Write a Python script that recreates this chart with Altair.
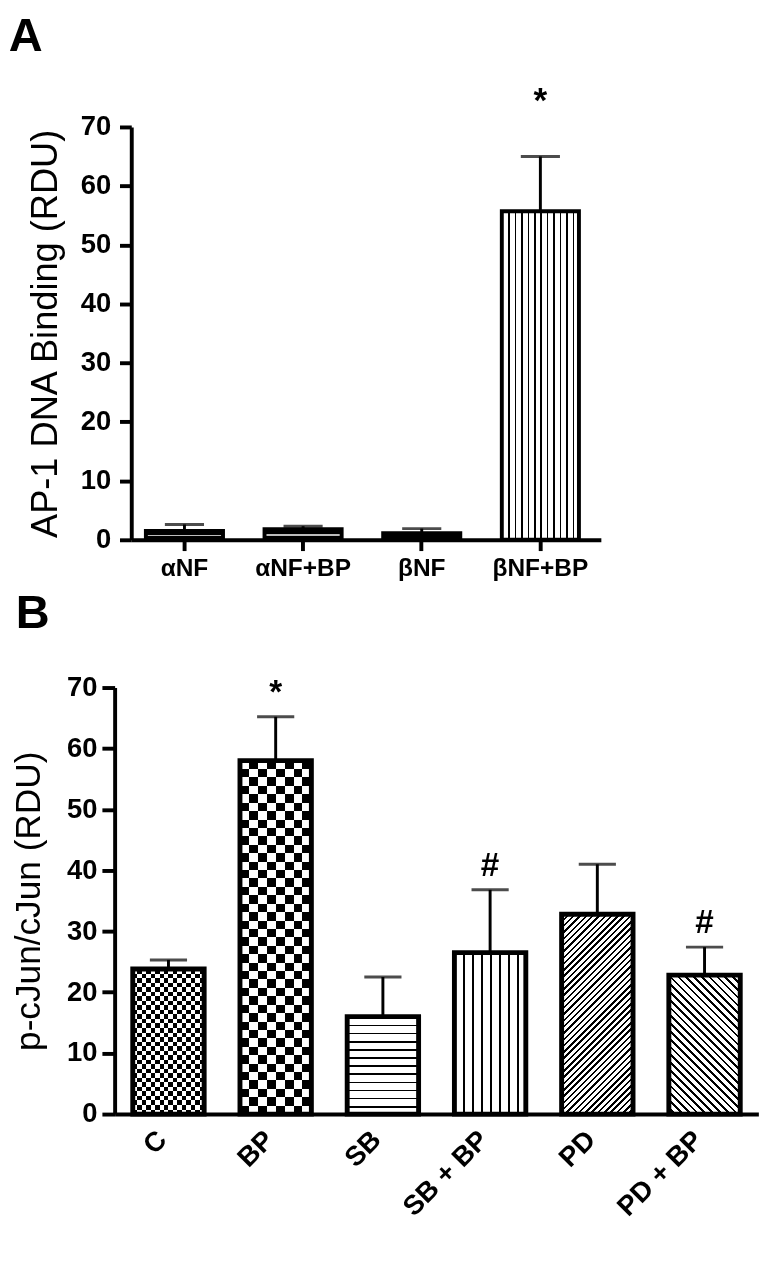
import math
import altair as alt
import pandas as pd

# ---------------- data ----------------
cats_a = ["αNF", "αNF+BP", "βNF", "βNF+BP"]
mean_a = [1.5, 1.8, 1.1, 55.7]
err_a = [1.1, 0.5, 0.8, 9.3]
sig_a = ["", "", "", "*"]

cats_b = ["C", "BP", "SB", "SB + BP", "PD", "PD + BP"]
mean_b = [23.8, 58.0, 16.0, 26.5, 32.8, 22.8]
err_b = [1.5, 7.2, 6.5, 10.3, 8.2, 4.6]
sig_b = ["", "*", "", "#", "", "#"]

y_ticks = [0, 10, 20, 30, 40, 50, 60, 70]

FONT = "Liberation Sans"

# ---------------- layout constants ----------------
WA, HA = 480, 422
SHIFT_B = 17            # panel B's y axis sits this far left of the shared plot edge
WB, HB = 641, 436
PI_A, PO_A, AL_A = 0.35, 0.154, 0.40
PI_B, PO_B, AL_B = 0.334, 0.169, 0.5
RANGE_A = [0, WA]
RANGE_B = [-SHIFT_B, WB]
step_a = (RANGE_A[1] - RANGE_A[0]) / (len(cats_a) - PI_A + 2 * PO_A)
step_b = (RANGE_B[1] - RANGE_B[0]) / (len(cats_b) - PI_B + 2 * PO_B)
bw_a = step_a * (1 - PI_A)
bw_b = step_b * (1 - PI_B)
ppu_a = HA / 70.0
ppu_b = HB / 70.0

BLACK = "#000000"
WHITE = "#ffffff"
CLEAR = "rgba(255,255,255,0)"


def stripe_stops(n, duty, c_on, c_off):
    n = max(1, int(round(n)))
    stops = []
    for k in range(n):
        a = k / n
        b = (k + duty) / n
        c = (k + 1) / n
        stops += [(a, c_on), (b, c_on), (b, c_off), (c, c_off)]
    return stops


def grad(stops, x1, y1, x2, y2):
    return alt.LinearGradient(
        gradient="linear",
        stops=[alt.GradientStop(color=c, offset=round(min(max(o, 0.0), 1.0), 5)) for o, c in stops],
        x1=x1, y1=y1, x2=x2, y2=y2,
    )


def fills_for(kind, w, h):
    """Return list of (fill, blend) tuples for a pattern kind."""
    t = kind[0]
    if t == "solid":
        return [(kind[1], None)]
    if t == "band":
        st = [(0, BLACK), (0.45, BLACK), (0.45, kind[1]), (0.6, kind[1]), (0.6, BLACK), (1, BLACK)]
        return [(grad(st, 0, 0, 0, 1), None)]
    if t == "vlines":
        period, duty = kind[1], kind[2]
        return [(grad(stripe_stops(w / period, duty, BLACK, WHITE), 0, 0, 1, 0), None)]
    if t == "hlines":
        period, duty = kind[1], kind[2]
        return [(grad(stripe_stops(h / period, duty, BLACK, WHITE), 0, 0, 0, 1), None)]
    if t == "checker":
        c = kind[1]
        v = grad(stripe_stops(w / (2 * c), 0.5, BLACK, WHITE), 0, 0, 1, 0)
        hh = grad(stripe_stops(h / (2 * c), 0.5, WHITE, CLEAR), 0, 0, 0, 1)
        return [(v, None), (hh, "difference")]
    if t in ("diag_up", "diag_down"):
        period, duty = kind[1], kind[2]
        s = (w + h) / (w * w + h * h)
        n = (w + h) / (math.sqrt(2) * period)
        st = stripe_stops(n, duty, BLACK, WHITE)
        if t == "diag_up":
            return [(grad(st, 0, 0, w * s, h * s), None)]
        return [(grad(st, 1, 0, 1 - w * s, h * s), None)]
    return [(WHITE, None)]


def panel(cats, means, errs, sigs, kinds, W, H, rng, pi, po, al, bw, ppu,
          stroke_w, xaxis, ytitle, ytitle_size, ylab_size, yaxis_extra, sig_dy, sig_size,
          cap_size, letter, letter_offset, letter_dx):
    df = pd.DataFrame({"cat": cats, "mean": means, "err": errs, "sig": sigs})
    df["upper"] = df["mean"] + df["err"]

    xs = alt.Scale(domain=cats, range=rng, paddingInner=pi, paddingOuter=po, align=al)
    ys = alt.Scale(domain=[0, 70], nice=False, zero=True)
    x_enc = alt.X("cat:N", sort=cats, scale=xs, axis=xaxis)
    y_axis = alt.Axis(
        values=y_ticks, title=ytitle, grid=False,
        labelFontSize=ylab_size, labelFontWeight="bold", labelFont=FONT,
        titleFontSize=ytitle_size, titleFontWeight="normal", titleFont=FONT,
        domainWidth=4, tickWidth=4, domainColor=BLACK, tickColor=BLACK,
        labelColor=BLACK, titleColor=BLACK, **yaxis_extra,
    )
    y_enc = alt.Y("mean:Q", scale=ys, axis=y_axis)

    base = alt.Chart(df)
    layers = []
    for cat, m, kind in zip(cats, means, kinds):
        for fill, blend in fills_for(kind, bw, m * ppu):
            kw = dict(fill=fill, strokeWidth=0)
            if blend:
                kw["blend"] = blend
            layers.append(
                base.transform_filter(alt.datum.cat == cat)
                .mark_bar(**kw)
                .encode(x=x_enc, y=y_enc)
            )
    layers.append(base.mark_rule(color=BLACK, strokeWidth=3).encode(x=x_enc, y=y_enc, y2="upper:Q"))
    layers.append(base.mark_tick(color=BLACK, thickness=3, size=cap_size).encode(x=x_enc, y=alt.Y("upper:Q", scale=ys)))
    layers.append(
        base.mark_bar(fill=WHITE, fillOpacity=0, stroke=BLACK, strokeWidth=stroke_w, strokeJoin="miter")
        .encode(x=x_enc, y=y_enc)
    )
    layers.append(
        base.mark_text(font=FONT, fontWeight="bold", fontSize=sig_size, baseline="middle", dy=sig_dy, color=BLACK)
        .encode(x=x_enc, y=alt.Y("upper:Q", scale=ys), text="sig:N")
    )
    return alt.layer(*layers).properties(
        width=W, height=H,
        title=alt.TitleParams(letter, anchor="start", frame="bounds", fontSize=48, font=FONT,
                              fontWeight="bold", color=BLACK, offset=letter_offset, dx=letter_dx),
    )


xaxis_a = alt.Axis(title=None, labelAngle=0, labelFontSize=25, labelFontWeight="bold", labelFont=FONT,
                   labelColor=BLACK, domainWidth=4, domainColor=BLACK, tickWidth=4, tickColor=BLACK,
                   tickSize=11, labelPadding=6, ticks=True)
xaxis_b = alt.Axis(title=None, labelAngle=-45, labelAlign="right", labelBaseline="middle",
                   labelFontSize=28, labelFontWeight="bold", labelFont=FONT, labelColor=BLACK,
                   domainWidth=4, domainColor=BLACK, ticks=False, labelPadding=22, labelOffset=-6)

kinds_a = [("band", "#bdbdbd"), ("band", "#bdbdbd"), ("solid", BLACK), ("vlines", 6.5, 0.25)]
kinds_b = [("checker", 4.5), ("checker", 8.5), ("hlines", 8.6, 0.2), ("vlines", 8.8, 0.2),
           ("diag_up", 4.6, 0.4), ("diag_down", 5.6, 0.35)]

chart_a = panel(cats_a, mean_a, err_a, sig_a, kinds_a, WA, HA, RANGE_A, PI_A, PO_A, AL_A, bw_a, ppu_a,
                4, xaxis_a, "AP-1 DNA Binding (RDU)", 37, 28,
                dict(tickSize=12, labelPadding=9, titlePadding=16), -56, 36, 40, "A", 24, -19)
chart_b = panel(cats_b, mean_b, err_b, sig_b, kinds_b, WB, HB, RANGE_B, PI_B, PO_B, AL_B, bw_b, ppu_b,
                5, xaxis_b, "p-cJun/cJun (RDU)", 36, 28,
                dict(tickSize=13, labelPadding=5, titlePadding=20, offset=SHIFT_B), -24, 34, 38, "B", 37, 5)

chart = (
    alt.concat(chart_a, chart_b, columns=1, spacing=10)
    .properties(padding={"left": 0, "top": -8, "right": 0, "bottom": 0}, background="white")
    .configure_view(stroke=None)
)

chart.save("out.html", embed_options={"renderer": "svg", "actions": False})
